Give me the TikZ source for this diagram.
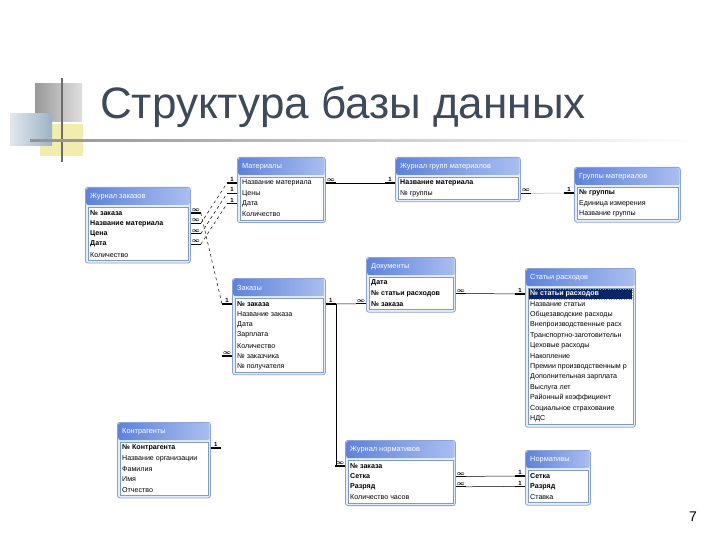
\documentclass[tikz,border=0pt]{standalone}
\usepackage{fontspec}
\setmainfont{Liberation Sans}
\usetikzlibrary{calc}
\definecolor{titlecol}{HTML}{3E4A5A}
\definecolor{framefill}{HTML}{E6ECF8}
\definecolor{frameblue}{HTML}{8CA3D6}
\definecolor{hdA}{HTML}{5F82DA}
\definecolor{hdB}{HTML}{A9BEF0}
\definecolor{innerline}{HTML}{7F9DB9}
\definecolor{hlblue}{HTML}{0A246A}
\definecolor{decblue}{HTML}{9DB2C6}
\definecolor{decyellow}{HTML}{F2EDAE}
\tikzset{
 tabframe/.style={draw=frameblue, fill=framefill, rounded corners=2.5pt, inner sep=0pt, line width=0.8pt},
 innerbox/.style={draw=innerline, fill=white, line width=0.6pt},
 rowtxt/.style={anchor=west, inner sep=0pt, font=\fontsize{7.1}{8}\selectfont, text=black},
 headtxt/.style={anchor=west, inner sep=0pt, font=\fontsize{7.4}{8}\selectfont, text=white},
 stubline/.style={line width=1.2pt, black},
 rel/.style={line width=0.5pt, black},
 card/.style={font=\fontsize{6}{6}\selectfont\bfseries, inner sep=0.8pt, above},
}
\newcommand\dbtab[6]{%
 \pgfmathsetmacro\tabh{34+(#5-1)*10.4}%
 \node[tabframe, minimum width=#4pt, minimum height=\tabh pt, anchor=north west] (#1) at (#2,#3) {};
 \path[left color=hdA, right color=hdB, rounded corners=2pt] ($(#1.north west)+(1.2,1.2)$) rectangle ($(#1.north east)+(-1.2,18)$);
 \node[headtxt] (#1-h) at ($(#1.north west)+(5,10)$) {#6};
 \draw[innerbox] ($(#1.north west)+(3,20)$) rectangle ($(#1.south east)+(-3,-3)$);
}
\newcommand\dbrows[2]{%
 \foreach \r [count=\i] in {#2} {%
   \pgfmathsetmacro\ry{26+(\i-1)*10.4}%
   \node[rowtxt] (#1-\i) at ($(#1.north west)+(5,\ry)$) {\r};
 }}
\newcommand\stubR[3]{%
 \coordinate (#1-#2-R0) at (#1.east |- #1-#2);
 \coordinate (#1-#2-R) at ($(#1-#2-R0)+(10,0)$);
 \draw[stubline] (#1-#2-R0) -- (#1-#2-R) node[card, midway] {#3};}
\newcommand\stubL[3]{%
 \coordinate (#1-#2-L0) at (#1.west |- #1-#2);
 \coordinate (#1-#2-L) at ($(#1-#2-L0)+(-10,0)$);
 \draw[stubline] (#1-#2-L0) -- (#1-#2-L) node[card, midway] {#3};}
\newcommand\inft{$\boldsymbol{\infty}$}
\usepackage{amsmath}
\newcommand\ONE{1}
\begin{document}
\begin{tikzpicture}[x=1pt,y=-1pt]
\useasboundingbox[fill=white] (0,0) rectangle (720,540);
% decoration
\shade[left color=gray!80, right color=gray!25] (35,84) rectangle (82,122);
\fill[decyellow] (40,124) rectangle (83,156);
\shade[left color=white!70!decblue, right color=decblue] (10,114) rectangle (52,146);
\draw[gray!85!black, line width=1.6pt] (62,78) -- (62,162);
\shade[left color=gray!85, right color=white] (30,139.2) rectangle (700,141.2);
% title
\node[anchor=base west, inner sep=0pt, font=\fontsize{44}{48}\selectfont, text=titlecol] (title) at (100,119) {Структура базы данных};
% tables
\dbtab{jz}{85}{187}{105}{5}{Журнал заказов}
\dbrows{jz}{\bfseries №~заказа, \bfseries Название материала, \bfseries Цена, \bfseries Дата, Количество}
\dbtab{mat}{237}{157}{88}{4}{Материалы}
\dbrows{mat}{Название материала, Цены, Дата, Количество}
\dbtab{jgm}{395}{157}{125}{2}{Журнал групп материалов}
\dbrows{jgm}{\bfseries Название материала, №~группы}
\dbtab{gm}{574}{167}{106}{3}{Группы материалов}
\dbrows{gm}{\bfseries №~группы, Единица измерения, Название группы}
\dbtab{doc}{366}{257}{89}{3}{Документы}
\dbrows{doc}{\bfseries Дата, \bfseries №~статьи расходов, \bfseries №~заказа}
\dbtab{zak}{232}{278}{93}{7}{Заказы}
\dbrows{zak}{\bfseries №~заказа, Название заказа, Дата, Зарплата, Количество, №~заказчика, №~получателя}
\dbtab{sr}{525}{268}{110}{13}{Статьи расходов}
\fill[hlblue] ($(sr.north west)+(3.6,21)$) rectangle ($(sr.north east)+(-3.6,31)$);
\draw[white!60!black, dotted, line width=0.5pt] ($(sr.north west)+(3.6,21)$) rectangle ($(sr.north east)+(-3.6,31)$);
\dbrows{sr}{\color{white}\bfseries №~статьи расходов, Название статьи, Общезаводские расходы, Внепроизводственные расх, Транспортно-заготовительн, Цеховые расходы, Накопление, Премии производственным р, Дополнительная зарплата, Выслуга лет, Районный коэффициент, Социальное страхование, НДС}
\dbtab{kon}{117}{422}{93}{5}{Контрагенты}
\dbrows{kon}{\bfseries №~Контрагента, Название организации, Фамилия, Имя, Отчество}
\dbtab{jn}{345}{440}{110}{4}{Журнал нормативов}
\dbrows{jn}{\bfseries №~заказа, \bfseries Сетка, \bfseries Разряд, Количество часов}
\dbtab{norm}{525}{450}{65}{3}{Нормативы}
\dbrows{norm}{\bfseries Сетка, \bfseries Разряд, Ставка}
% stubs
\foreach \k in {1,2,3,4} {\stubR{jz}{\k}{\inft}}
\foreach \k in {1,2,3} {\stubL{mat}{\k}{\ONE}}
\stubR{mat}{1}{\inft}
\stubL{jgm}{1}{\ONE}
\stubR{jgm}{2}{\inft}
\stubL{gm}{1}{\ONE}
\stubL{zak}{1}{\ONE}
\stubR{zak}{1}{\ONE}
\stubL{zak}{6}{\inft}
\stubL{doc}{3}{\inft}
\stubR{doc}{2}{\inft}
\stubL{sr}{1}{\ONE}
\stubR{kon}{1}{\ONE}
\stubL{jn}{1}{\inft}
\stubR{jn}{2}{\inft}
\stubR{jn}{3}{\inft}
\stubL{norm}{1}{\ONE}
\stubL{norm}{2}{\ONE}
% relations
\draw[rel, dashed] (jz-1-R) -- (zak-1-L);
\draw[rel, dashed] (jz-2-R) -- (mat-1-L);
\draw[rel, dashed] (jz-3-R) -- (mat-2-L);
\draw[rel, dashed] (jz-4-R) -- (mat-3-L);
\draw[rel] (mat-1-R) -- (jgm-1-L);
\draw[rel, gray!60] (jgm-2-R) -- (gm-1-L);
\draw[rel] (zak-1-R) -- (doc-3-L);
\draw[rel] (zak-1-R) |- (jn-1-L);
\draw[rel] (doc-2-R) -- (sr-1-L);
\draw[rel] (jn-2-R) -- (norm-1-L);
\draw[rel] (jn-3-R) -- (norm-2-L);
% page number
\node[inner sep=0pt, font=\fontsize{14}{16}\selectfont] (pg) at (693,517) {7};
\end{tikzpicture}
\end{document}
